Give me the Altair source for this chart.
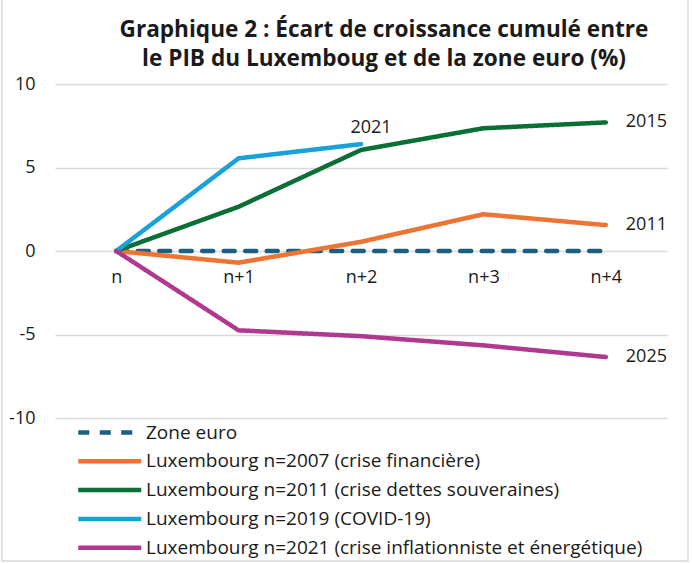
import altair as alt
import pandas as pd

# Periods after the start of each crisis
periods = ["n", "n+1", "n+2", "n+3", "n+4"]

series_names = [
    "Zone euro",
    "Luxembourg n=2007 (crise financière)",
    "Luxembourg n=2011 (crise dettes souveraines)",
    "Luxembourg n=2019 (COVID-19)",
    "Luxembourg n=2021 (crise inflationniste et énergétique)",
]

# Cumulative growth gap (%) versus the euro area
zone_euro = [0, 0, 0, 0, 0]
lux_2007 = [0, -0.7, 0.55, 2.2, 1.55]
lux_2011 = [0, 2.65, 6.05, 7.35, 7.7]
lux_2019 = [0, 5.55, 6.4]
lux_2021 = [0, -4.75, -5.1, -5.65, -6.35]

# Year reached at the last available point of each Luxembourg series
end_years = ["2011", "2015", "2021", "2025"]

colors = ["#1d5f80", "#ee7434", "#0a6f35", "#19a2da", "#b0398f"]
dashes = [[11, 10.5], [1, 0], [1, 0], [1, 0], [1, 0]]

all_values = [zone_euro, lux_2007, lux_2011, lux_2019, lux_2021]
rows = []
for name, vals in zip(series_names, all_values):
    for p, v in zip(periods, vals):
        rows.append({"serie": name, "periode": p, "valeur": v})
df = pd.DataFrame(rows)

end_rows = []
for name, vals, yr in zip(series_names[1:], all_values[1:], end_years):
    end_rows.append({"serie": name, "periode": periods[len(vals) - 1],
                     "valeur": vals[-1], "annee": yr})
ends = pd.DataFrame(end_rows)

FONT = "Open Sans"
TXT = "#1a1a1a"

x_enc = alt.X(
    "periode:N",
    sort=periods,
    scale=alt.Scale(type="point", padding=0.5),
    axis=alt.Axis(
        title=None, domain=False, ticks=False, grid=False,
        offset=-167, labelPadding=17, labelAngle=0,
        labelFont=FONT, labelFontSize=18, labelColor=TXT,
    ),
)
y_enc = alt.Y(
    "valeur:Q",
    scale=alt.Scale(domain=[-10, 10], nice=False, zero=False),
    axis=alt.Axis(
        title=None, domain=False, ticks=False,
        values=[-10, -5, 0, 5, 10], labelExpr="datum.value",
        gridColor="#d9d9d9", gridWidth=1.5,
        labelPadding=20, labelFont=FONT, labelFontSize=18, labelColor=TXT,
    ),
)

# Long horizontal line symbol starting at the symbol origin
legend = alt.Legend(
    title=None, orient="none", legendX=19, legendY=339,
    symbolType="M-1,0H11", symbolSize=110.25, symbolStrokeWidth=4.5,
    labelFont=FONT, labelFontSize=19, labelColor=TXT, labelOffset=53,
    rowPadding=8.8, labelLimit=600,
)

lines = alt.Chart(df).mark_line(strokeWidth=4.5, strokeCap="round", strokeJoin="round").encode(
    x=x_enc,
    y=y_enc,
    color=alt.Color("serie:N", sort=series_names,
                    scale=alt.Scale(domain=series_names, range=colors), legend=legend),
    strokeDash=alt.StrokeDash("serie:N", sort=series_names,
                              scale=alt.Scale(domain=series_names, range=dashes), legend=legend),
    order=alt.Order("periode:N"),
)

label_above = alt.Chart(ends[ends["annee"] == "2021"]).mark_text(
    font=FONT, fontSize=18, color=TXT, align="center", baseline="alphabetic", dx=10, dy=-11,
).encode(x=alt.X("periode:N", sort=periods), y="valeur:Q", text="annee:N")

label_right = alt.Chart(ends[ends["annee"] != "2021"]).mark_text(
    font=FONT, fontSize=18, color=TXT, align="left", baseline="middle", dx=20,
).encode(x=alt.X("periode:N", sort=periods), y="valeur:Q", text="annee:N")

# Thin grey frame around the whole figure
frame = alt.Chart(pd.DataFrame({"k": [0]})).mark_rect(
    fill=None, stroke="#d9d9d9", strokeWidth=1.5,
).encode(
    x=alt.value(-53), x2=alt.value(633), y=alt.value(-95), y2=alt.value(477),
)

chart = alt.layer(frame, lines, label_above, label_right).properties(
    width=612,
    height=334,
    autosize=alt.AutoSizeParams(type="none"),
    padding={"left": 55, "top": 84, "right": 25, "bottom": 145},
    background="white",
    title=alt.TitleParams(
        text=["Graphique 2 : Écart de croissance cumulé entre",
              "le PIB du Luxemboug et de la zone euro (%)"],
        font=FONT, fontSize=22.6, fontWeight="bold", color=TXT,
        anchor="middle", frame="group", dx=23, offset=-82, lineHeight=29,
    ),
).configure_view(stroke=None)

chart.save("out.html", embed_options={"renderer": "svg", "actions": False})
